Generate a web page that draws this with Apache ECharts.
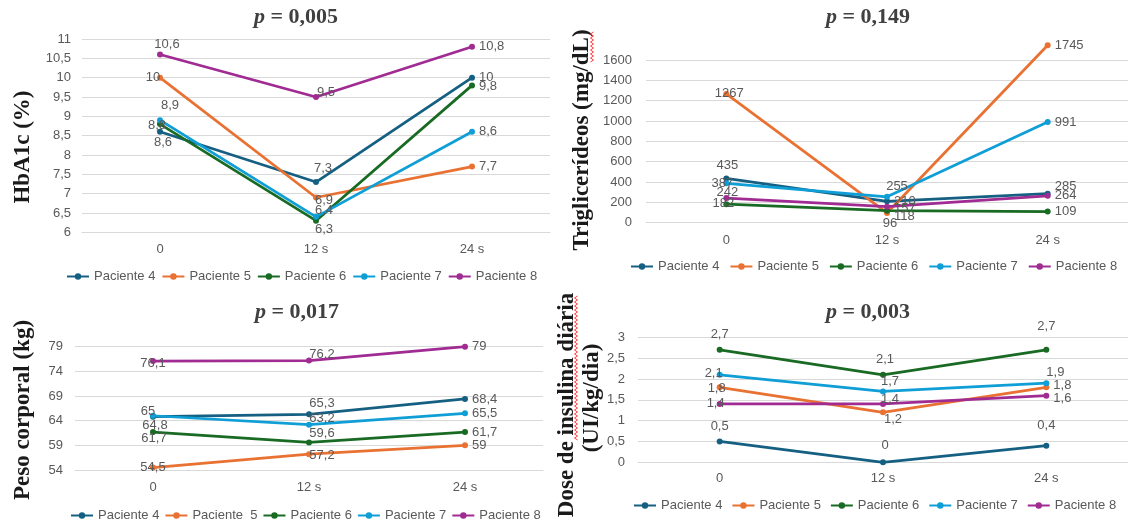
<!DOCTYPE html>
<html>
<head>
<meta charset="utf-8">
<script src="https://cdn.jsdelivr.net/npm/echarts@6/dist/echarts.min.js"></script>
<style>
  html, body { margin: 0; padding: 0; background: #ffffff; }
  #chart { width: 1128px; height: 526px; }
</style>
</head>
<body>
<div id="chart"></div>
<script>
// Time points shared by every panel
const categories = ['0', '12 s', '24 s'];

// Legend names (the weight panel spells patient 5 with a double space)
const patients = ['Paciente 4', 'Paciente 5', 'Paciente 6', 'Paciente 7', 'Paciente 8'];
const patientsPeso = ['Paciente 4', 'Paciente  5', 'Paciente 6', 'Paciente 7', 'Paciente 8'];

// One row per patient (4..8), one value per time point
const hba1c = [
  [8.6, 7.3, 10],
  [10, 6.9, 7.7],
  [8.8, 6.3, 9.8],
  [8.9, 6.4, 8.6],
  [10.6, 9.5, 10.8]
];
const triglicerideos = [
  [435, 210, 285],
  [1267, 96, 1745],
  [182, 118, 109],
  [387, 255, 991],
  [242, 157, 264]
];
const peso = [
  [64.8, 65.3, 68.4],
  [54.5, 57.2, 59],
  [61.7, 59.6, 61.7],
  [65, 63.2, 65.5],
  [76.1, 76.2, 79]
];
const insulina = [
  [0.5, 0, 0.4],
  [1.8, 1.2, 1.8],
  [2.7, 2.1, 2.7],
  [2.1, 1.7, 1.9],
  [1.4, 1.4, 1.6]
];

// p-values shown above each panel
const pValues = ['0,005', '0,149', '0,017', '0,003'];

// Value-axis scales (tick labels follow from min / interval)
const yScales = [
  { min: 6, max: 11, interval: 0.5 },
  { min: 0, max: 1800, interval: 200 },
  { min: 54, max: 79, interval: 5 },
  { min: 0, max: 3, interval: 0.5 }
];

const colors = ['#156082', '#E97132', '#196B24', '#0F9ED5', '#A02B93'];
const gray = '#595959';
const gridGray = '#d9d9d9';
const sans = 'Liberation Sans, Arial, sans-serif';
const serif = 'Liberation Serif, Times New Roman, serif';

// Value label placement per point: [position, dx, dy]
// position: r = right of the marker, c = centred on the marker (then nudged by dx/dy)
const labelPlacement = [
  [ // HbA1c
    [['c', 3, 11], ['c', 7, -14], ['r', 0, 0]],
    [['c', -7, 0], ['c', 8, 3], ['r', 0, 0]],
    [['c', -3, 1], ['c', 8, 9], ['r', 0, 1]],
    [['c', 10, -15], ['c', 8, -6], ['r', 0, 0]],
    [['c', 7, -10], ['c', 10, -5], ['r', 0, 0]]
  ],
  [ // triglicerídeos
    [['c', 1, -13], ['r', 0, 0], ['r', 0, -7]],
    [['c', 3, 0], ['c', 3, 10], ['r', 0, 0]],
    [['c', -3, -1], ['r', 0, 6], ['r', 0, 0]],
    [['c', -4, 0], ['c', 10, -10], ['r', 0, 0]],
    [['c', 1, -6], ['r', 0, 2], ['r', 0, 0]]
  ],
  [ // peso corporal
    [['c', 2, 9], ['c', 13, -11], ['r', 0, 0]],
    [['c', 0, 0], ['c', 13, 1], ['r', 0, 0]],
    [['c', 1, 6], ['c', 13, -9], ['r', 0, 0]],
    [['c', -5, -4], ['c', 13, -6], ['r', 0, 0]],
    [['c', 0, 2], ['c', 13, -6], ['r', 0, 0]]
  ],
  [ // dose de insulina
    [['c', 0, -15], ['c', 2, -17], ['c', 0, -20]],
    [['c', -3, 1], ['c', 10, 7], ['r', 0, -2]],
    [['c', 0, -15], ['c', 2, -15], ['c', 0, -23]],
    [['c', -6, -1], ['c', 7, -10], ['c', 9, -11]],
    [['c', -4, -1], ['c', 7, -5], ['r', 0, 3]]
  ]
];
const placeMap = { r: 'right', c: 'inside' };

// Panel layout
const panels = [
  { data: hba1c, names: patients, grid: { left: 82, top: 39, width: 468, height: 193.3 },
    legend: { left: 66, top: 270, gap: 6 }, title: { left: 254, top: 6 }, yMargin: 11, xMargin: 11 },
  { data: triglicerideos, names: patients, grid: { left: 646, top: 39.7, width: 487, height: 183 },
    legend: { left: 630, top: 260, gap: 10 }, title: { left: 826, top: 6 }, yMargin: 14, xMargin: 11 },
  { data: peso, names: patientsPeso, grid: { left: 75, top: 346.7, width: 468, height: 123.3 },
    legend: { left: 70, top: 509, gap: 5 }, title: { left: 255, top: 301 }, yMargin: 12, xMargin: 11 },
  { data: insulina, names: patients, grid: { left: 638, top: 337.3, width: 498, height: 125 },
    legend: { left: 633, top: 499, gap: 9 }, title: { left: 826, top: 301 }, yMargin: 13, xMargin: 10 }
];

const fmt = v => String(v).replace('.', ',');

const grids = [], xAxes = [], yAxes = [], series = [], legends = [], titles = [];

panels.forEach((p, i) => {
  grids.push(Object.assign({ containLabel: false }, p.grid));

  xAxes.push({
    type: 'category', gridIndex: i, data: categories, boundaryGap: true,
    axisTick: { show: false },
    axisLine: { lineStyle: { color: gridGray, width: 1 } },
    axisLabel: { color: gray, fontSize: 13, fontFamily: sans, margin: p.xMargin }
  });

  const sc = yScales[i];
  const tickCount = Math.round((sc.max - sc.min) / sc.interval) + 1;
  // triglycerides: the top of the scale carries no gridline or label
  const lineColors = [];
  for (let k = 0; k < tickCount; k++) {
    lineColors.push(i === 1 && k === tickCount - 1 ? 'rgba(0,0,0,0)' : gridGray);
  }
  yAxes.push({
    type: 'value', gridIndex: i, min: sc.min, max: sc.max, interval: sc.interval,
    axisLine: { show: false }, axisTick: { show: false },
    splitLine: { show: true, lineStyle: { color: lineColors, width: 1 } },
    axisLabel: {
      color: gray, fontSize: 13, fontFamily: sans, margin: p.yMargin,
      formatter: v => (i === 1 && v === sc.max) ? '' : fmt(v)
    }
  });

  p.data.forEach((vals, s) => {
    series.push({
      type: 'line', name: p.names[s], xAxisIndex: i, yAxisIndex: i,
      color: colors[s],
      symbol: 'circle', symbolSize: 6,
      lineStyle: { width: 2.75, color: colors[s] },
      itemStyle: { color: colors[s] },
      label: {
        show: true, color: gray, fontSize: 13, fontFamily: sans, distance: 4,
        formatter: d => fmt(d.value)
      },
      data: vals.map((v, k) => {
        const pl = labelPlacement[i][s][k];
        return {
          value: v,
          label: { position: placeMap[pl[0]], offset: [pl[1], pl[2]] }
        };
      }),
      animation: false
    });
  });

  legends.push({
    data: p.names, left: p.legend.left, top: p.legend.top,
    orient: 'horizontal', itemGap: p.legend.gap, itemWidth: 22, itemHeight: 8,
    padding: 0, selectedMode: false,
    textStyle: { color: gray, fontSize: 13, fontFamily: sans }
  });

  titles.push({
    text: '{i|p}{b| = ' + pValues[i] + '}',
    left: p.title.left, top: p.title.top, padding: 0,
    textStyle: {
      rich: {
        i: { fontFamily: serif, fontStyle: 'italic', fontWeight: 'bold', fontSize: 22, color: '#404040' },
        b: { fontFamily: serif, fontWeight: 'bold', fontSize: 22, color: '#404040' }
      }
    }
  });
});

// Rotated value-axis titles
const axisTitleStyle = { font: 'bold 23px ' + serif, fill: '#1a1a1a', textAlign: 'center', textVerticalAlign: 'middle' };
const axisTitles = [
  { text: 'HbA1c (%)', x: 23, y: 147 },
  { text: 'Triglicerídeos (mg/dL)', x: 582, y: 140 },
  { text: 'Peso corporal (kg)', x: 23, y: 410 },
  { text: 'Dose de insulina diária', x: 567, y: 405 },
  { text: '(UI/kg/dia)', x: 592, y: 398 }
];
const graphics = axisTitles.map(t => ({
  type: 'text', x: t.x, y: t.y, rotation: Math.PI / 2,
  style: Object.assign({ text: t.text }, axisTitleStyle)
}));

// Wavy proofing underline beneath the flagged words
function wavy(x, y0, y1) {
  const pts = [];
  let side = 1;
  for (let y = y0; y <= y1; y += 2) { pts.push([x + side * 1.5, y]); side = -side; }
  return { type: 'polyline', shape: { points: pts }, style: { stroke: '#ff3b3b', lineWidth: 1, fill: null } };
}
graphics.push(wavy(592, 32, 62));
graphics.push(wavy(576, 296, 440));

const chart = echarts.init(document.getElementById('chart'), null, { renderer: 'canvas' });
chart.setOption({
  backgroundColor: '#ffffff',
  animation: false,
  title: titles,
  legend: legends,
  grid: grids,
  xAxis: xAxes,
  yAxis: yAxes,
  series: series,
  graphic: graphics
});
</script>
</body>
</html>
